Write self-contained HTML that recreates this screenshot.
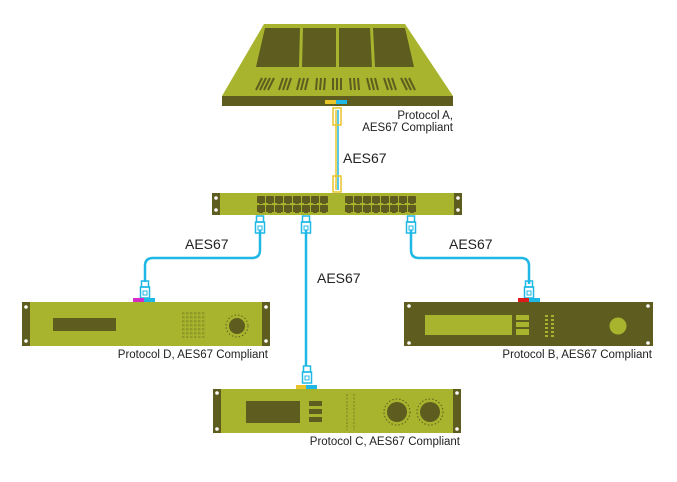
<!DOCTYPE html>
<html><head><meta charset="utf-8"><style>
html,body{margin:0;padding:0;background:#fff;}
svg{display:block;}
text{font-family:"Liberation Sans",sans-serif;fill:#222;}
</style></head><body>
<svg width="677" height="482" viewBox="0 0 677 482" xmlns="http://www.w3.org/2000/svg">
<defs>
<g id="conn"><rect x="-3.5" y="0" width="7" height="6" fill="none" stroke="#1fb8e6" stroke-width="1.5"/><rect x="-4.5" y="6" width="9" height="11" fill="none" stroke="#1fb8e6" stroke-width="1.5"/><rect x="-2" y="10" width="4" height="4" fill="none" stroke="#1fb8e6" stroke-width="1"/></g>
<g id="port"><path d="M0,2 h8 v5 h-2 v1 h-4 v-1 h-2z" fill="#5e5c1e"/><rect x="0" y="0" width="8" height="2.5" rx="1" fill="#5e5c1e"/></g>
<pattern id="dots" x="182" y="312" width="4" height="4" patternUnits="userSpaceOnUse"><rect width="2.5" height="2.5" fill="#8f9a28"/></pattern>
</defs>
<!-- Laptop -->
<polygon points="264,24 405,24 453,96 222,96" fill="#a8b42d"/>
<rect x="222" y="96" width="231" height="10" fill="#5e5c1e"/>
<polygon points="265,28 300,28 299,67 256,67" fill="#5e5c1e"/>
<polygon points="303,28 336,28 336,67 302,67" fill="#5e5c1e"/>
<polygon points="339,28 370,28 372,67 339,67" fill="#5e5c1e"/>
<polygon points="373,28 405,28 414,67 375,67" fill="#5e5c1e"/>
<g stroke="#5e5c1e" stroke-width="2">
<path d="M262,78 l-6,12 M266,78 l-6,12 M270,78 l-6,12 M274,78 l-6,12 M283,78 l-4,12 M287,78 l-4,12 M291,78 l-4,12 M300,78 l-3,12 M304,78 l-3,12 M308,78 l-3,12 M317,78 l-1,12 M321,78 l-1,12 M325,78 l-1,12 M333,78 v12 M337,78 v12 M341,78 v12 M350,78 l1,12 M354,78 l1,12 M358,78 l1,12 M367,78 l3,12 M371,78 l3,12 M375,78 l3,12 M384,78 l4,12 M388,78 l4,12 M392,78 l4,12 M401,78 l6,12 M405,78 l6,12 M409,78 l6,12"/>
</g>
<rect x="325" y="100" width="11" height="4" fill="#e8c42a"/><rect x="336" y="100" width="11" height="4" fill="#1fb8e6"/>
<line x1="336" y1="110" x2="336" y2="190" stroke="#e8c42a" stroke-width="1.5"/>
<line x1="338" y1="110" x2="338" y2="190" stroke="#1fb8e6" stroke-width="1.5"/>
<g transform="translate(337,108)"><rect x="-4" y="0" width="8" height="17" fill="none" stroke="#e8c42a" stroke-width="1.5"/></g>
<g transform="translate(337,176)"><rect x="-4" y="0" width="8" height="16" fill="none" stroke="#e8c42a" stroke-width="1.5"/></g>
<text x="453" y="119" font-size="11.5" text-anchor="end">Protocol A,</text>
<text x="453" y="131" font-size="11.5" text-anchor="end">AES67 Compliant</text>
<text x="343" y="163" font-size="14">AES67</text>
<!-- Switch -->
<rect x="212" y="193" width="250" height="22" fill="#a8b42d"/>
<rect x="212" y="193" width="8" height="22" fill="#5e5c1e"/><rect x="454" y="193" width="8" height="22" fill="#5e5c1e"/>
<circle cx="216" cy="198" r="1.8" fill="#fff"/><circle cx="216" cy="210" r="1.8" fill="#fff"/><circle cx="458" cy="198" r="1.8" fill="#fff"/><circle cx="458" cy="210" r="1.8" fill="#fff"/>
<g>
<use href="#port" x="257" y="196"/><use href="#port" x="266" y="196"/><use href="#port" x="275" y="196"/><use href="#port" x="284" y="196"/><use href="#port" x="293" y="196"/><use href="#port" x="302" y="196"/><use href="#port" x="311" y="196"/><use href="#port" x="320" y="196"/>
<use href="#port" x="257" y="205"/><use href="#port" x="266" y="205"/><use href="#port" x="275" y="205"/><use href="#port" x="284" y="205"/><use href="#port" x="293" y="205"/><use href="#port" x="302" y="205"/><use href="#port" x="311" y="205"/><use href="#port" x="320" y="205"/>
<use href="#port" x="345" y="196"/><use href="#port" x="354" y="196"/><use href="#port" x="363" y="196"/><use href="#port" x="372" y="196"/><use href="#port" x="381" y="196"/><use href="#port" x="390" y="196"/><use href="#port" x="399" y="196"/><use href="#port" x="408" y="196"/>
<use href="#port" x="345" y="205"/><use href="#port" x="354" y="205"/><use href="#port" x="363" y="205"/><use href="#port" x="372" y="205"/><use href="#port" x="381" y="205"/><use href="#port" x="390" y="205"/><use href="#port" x="399" y="205"/><use href="#port" x="408" y="205"/>
</g>
<!-- Cables -->
<g fill="none" stroke="#1fb8e6" stroke-width="2.5">
<path d="M260,230 V250 Q260,258 252,258 H153 Q145,258 145,266 V282"/>
<path d="M411,230 V250 Q411,258 419,258 H521 Q529,258 529,266 V284"/>
<path d="M306,230 V366"/>
</g>
<use href="#conn" x="260" y="216"/><use href="#conn" x="306" y="216"/><use href="#conn" x="411" y="216"/>
<use href="#conn" x="145" y="281"/><use href="#conn" x="529" y="281"/><use href="#conn" x="307" y="366"/>
<text x="185" y="249" font-size="14">AES67</text>
<text x="449" y="249" font-size="14">AES67</text>
<text x="317" y="283" font-size="14">AES67</text>
<!-- Device D -->
<rect x="22" y="302" width="248" height="44" fill="#a8b42d"/>
<rect x="22" y="302" width="8" height="44" fill="#5e5c1e"/><rect x="262" y="302" width="8" height="44" fill="#5e5c1e"/>
<circle cx="26" cy="307" r="1.8" fill="#fff"/><circle cx="26" cy="341" r="1.8" fill="#fff"/><circle cx="266" cy="307" r="1.8" fill="#fff"/><circle cx="266" cy="341" r="1.8" fill="#fff"/>
<rect x="133" y="298" width="11" height="4" fill="#d62bc9"/><rect x="144" y="298" width="11" height="4" fill="#1fb8e6"/>
<rect x="53" y="318" width="63" height="13" fill="#5e5c1e"/>
<rect x="182" y="312" width="24" height="26" fill="url(#dots)"/>
<circle cx="237" cy="326" r="8" fill="#5e5c1e"/>
<circle cx="237" cy="326" r="11" fill="none" stroke="#5e5c1e" stroke-width="1" stroke-dasharray="1.5,2"/>
<text x="268" y="358" font-size="11.5" text-anchor="end">Protocol D, AES67 Compliant</text>
<!-- Device B -->
<rect x="404" y="302" width="249" height="44" fill="#5e5c1e"/>
<circle cx="409" cy="306" r="1.8" fill="#fff"/><circle cx="409" cy="343" r="1.8" fill="#fff"/><circle cx="648" cy="306" r="1.8" fill="#fff"/><circle cx="648" cy="343" r="1.8" fill="#fff"/>
<rect x="518" y="298" width="11" height="4" fill="#e01b1b"/><rect x="529" y="298" width="11" height="4" fill="#1fb8e6"/>
<rect x="425" y="315" width="87" height="20" fill="#a8b42d"/>
<rect x="516" y="315" width="13" height="5" fill="#a8b42d"/><rect x="516" y="322" width="13" height="5" fill="#a8b42d"/><rect x="516" y="329" width="13" height="6" fill="#a8b42d"/>
<g fill="#a8b42d"><rect x="545" y="315" width="3" height="2"/><rect x="551" y="315" width="3" height="2"/><rect x="545" y="319" width="3" height="2"/><rect x="551" y="319" width="3" height="2"/><rect x="545" y="323" width="3" height="2"/><rect x="551" y="323" width="3" height="2"/><rect x="545" y="327" width="3" height="2"/><rect x="551" y="327" width="3" height="2"/><rect x="545" y="331" width="3" height="2"/><rect x="551" y="331" width="3" height="2"/><rect x="545" y="335" width="3" height="2"/><rect x="551" y="335" width="3" height="2"/></g>
<circle cx="618" cy="326" r="8.5" fill="#a8b42d"/>
<text x="652" y="358" font-size="11.5" text-anchor="end">Protocol B, AES67 Compliant</text>
<!-- Device C -->
<rect x="213" y="389" width="248" height="44" fill="#a8b42d"/>
<rect x="213" y="389" width="8" height="44" fill="#5e5c1e"/><rect x="453" y="389" width="8" height="44" fill="#5e5c1e"/>
<circle cx="217" cy="393" r="1.8" fill="#fff"/><circle cx="217" cy="429" r="1.8" fill="#fff"/><circle cx="457" cy="393" r="1.8" fill="#fff"/><circle cx="457" cy="429" r="1.8" fill="#fff"/>
<rect x="296" y="385" width="10" height="4" fill="#e8c42a"/><rect x="306" y="385" width="11" height="4" fill="#1fb8e6"/>
<rect x="246" y="401" width="54" height="22" fill="#5e5c1e"/>
<rect x="309" y="401" width="13" height="5" fill="#5e5c1e"/><rect x="309" y="409" width="13" height="5" fill="#5e5c1e"/><rect x="309" y="417" width="13" height="5" fill="#5e5c1e"/>
<line x1="347" y1="394" x2="347" y2="430" stroke="#8f9a28" stroke-width="2" stroke-dasharray="2,1.5"/><line x1="354" y1="394" x2="354" y2="430" stroke="#8f9a28" stroke-width="2" stroke-dasharray="2,1.5"/>
<circle cx="397" cy="412" r="10" fill="#5e5c1e"/><circle cx="397" cy="412" r="13" fill="none" stroke="#5e5c1e" stroke-dasharray="1.5,2"/>
<circle cx="430" cy="412" r="10" fill="#5e5c1e"/><circle cx="430" cy="412" r="13" fill="none" stroke="#5e5c1e" stroke-dasharray="1.5,2"/>
<text x="460" y="445" font-size="11.5" text-anchor="end">Protocol C, AES67 Compliant</text>
</svg>
</body></html>
